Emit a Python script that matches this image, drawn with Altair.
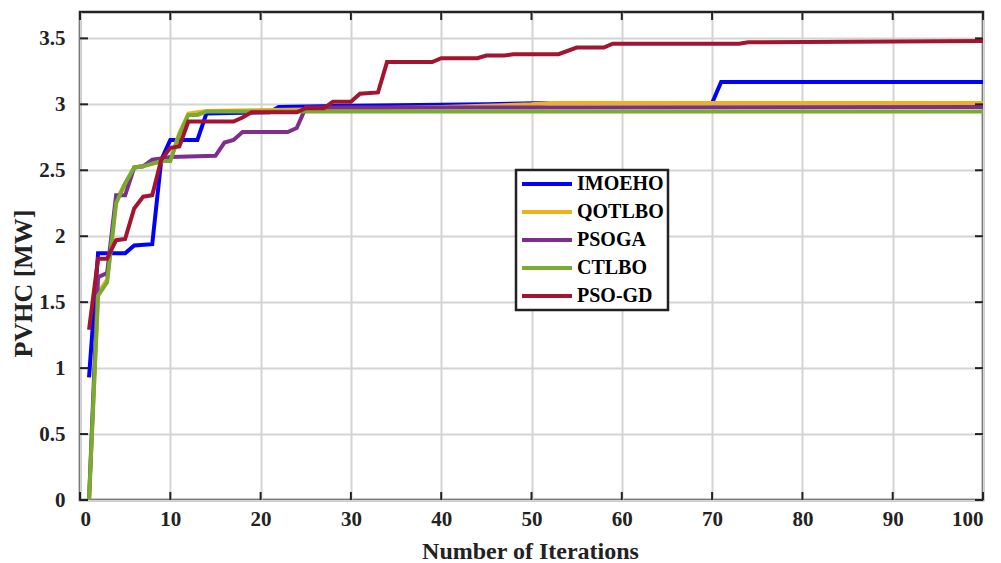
import altair as alt
import pandas as pd

# ---- data (iteration, value) breakpoints ----
imoeho_it = [1, 2, 5, 6, 8, 9, 10, 13, 14, 21, 22, 30, 45, 52, 70, 71, 100]
imoeho_v = [0.93, 1.87, 1.87, 1.93, 1.94, 2.58, 2.73, 2.73, 2.93, 2.94, 2.98, 2.99, 3.00, 3.01, 3.01, 3.17, 3.17]

qotlbo_it = [1, 2, 3, 4, 5, 6, 8, 10, 11, 12, 14, 25, 40, 50, 52, 100]
qotlbo_v = [0.0, 1.57, 1.67, 2.27, 2.40, 2.52, 2.55, 2.58, 2.78, 2.93, 2.95, 2.96, 2.98, 3.00, 3.01, 3.01]

psoga_it = [1, 2, 3, 4, 5, 6, 7, 8, 9, 10, 15, 16, 17, 18, 23, 24, 25, 100]
psoga_v = [0.0, 1.69, 1.72, 2.31, 2.31, 2.52, 2.53, 2.58, 2.59, 2.60, 2.61, 2.71, 2.73, 2.79, 2.79, 2.82, 2.975, 2.98]

ctlbo_it = [1, 2, 3, 4, 5, 6, 7, 8, 9, 10, 11, 12, 13, 14, 100]
ctlbo_v = [0.0, 1.55, 1.65, 2.25, 2.40, 2.52, 2.53, 2.55, 2.57, 2.57, 2.77, 2.92, 2.92, 2.945, 2.945]

psogd_it = [1, 2, 3, 4, 5, 6, 7, 8, 9, 10, 11, 12, 17, 18, 19, 24, 25, 27, 28, 30, 31, 33,
            34, 39, 40, 44, 45, 47, 48, 53, 55, 58, 59, 73, 74, 100]
psogd_v = [1.29, 1.83, 1.83, 1.97, 1.98, 2.21, 2.30, 2.31, 2.58, 2.67, 2.68, 2.87, 2.87, 2.90, 2.94, 2.94,
           2.97, 2.97, 3.02, 3.02, 3.08, 3.09, 3.32, 3.32, 3.35, 3.35, 3.37, 3.37, 3.38, 3.38, 3.43, 3.43,
           3.46, 3.46, 3.47, 3.48]

names = ["IMOEHO", "QOTLBO", "PSOGA", "CTLBO", "PSO-GD"]
colors = ["#0000FF", "#EDB120", "#7E2F8E", "#77AC30", "#A2142F"]
x_ticks = [0, 10, 20, 30, 40, 50, 60, 70, 80, 90, 100]
y_ticks = [0, 0.5, 1, 1.5, 2, 2.5, 3, 3.5]

series = [(imoeho_it, imoeho_v), (qotlbo_it, qotlbo_v), (psoga_it, psoga_v),
          (ctlbo_it, ctlbo_v), (psogd_it, psogd_v)]
rows = []
for k, (name, (its, vals)) in enumerate(zip(names, series)):
    for i, v in zip(its, vals):
        rows.append({"iter": i, "value": v, "alg": name, "k": k})
df = pd.DataFrame(rows)
xt = pd.DataFrame({"t": x_ticks})
yt = pd.DataFrame({"t": y_ticks})

W, H = 903, 488
FONT = "Liberation Serif"

xscale = alt.Scale(domain=[0, 100], nice=False, zero=False)
yscale = alt.Scale(domain=[0, 3.7], nice=False)

lines = alt.Chart(df).mark_line(strokeWidth=4).encode(
    x=alt.X("iter:Q", scale=xscale,
            axis=alt.Axis(values=x_ticks, title="Number of Iterations", grid=True,
                          tickSize=0, labelPadding=8, domain=False,
                          titleX=450, titleY=51, titleBaseline="middle",
                          titleFontSize=24)),
    y=alt.Y("value:Q", scale=yscale,
            axis=alt.Axis(values=y_ticks, title="PVHC [MW]", grid=True, format="~g",
                          tickSize=0, labelPadding=15, domain=False,
                          titleX=-57, titleY=271, titleBaseline="middle", titleAlign="center",
                          titleFontSize=26)),
    color=alt.Color("alg:N", scale=alt.Scale(domain=names, range=colors),
                    sort=names,
                    legend=alt.Legend(title=None, orient="none", legendX=436, legendY=158,
                                      symbolType="stroke", symbolSize=2500, symbolStrokeWidth=4,
                                      labelFont=FONT, labelFontSize=20, labelFontWeight="bold",
                                      labelColor="black", rowPadding=8, clipHeight=20,
                                      padding=4, strokeColor="#222222", fillColor="white",
                                      labelOffset=3)),
    order=alt.Order("k:Q"),
)

tick_style = dict(color="#222222", strokeWidth=2)
xb = alt.Chart(xt).mark_rule(**tick_style).encode(
    x=alt.X("t:Q", scale=xscale), y=alt.value(H), y2=alt.value(H - 8))
xtop = alt.Chart(xt).mark_rule(**tick_style).encode(
    x=alt.X("t:Q", scale=xscale), y=alt.value(0), y2=alt.value(8))
yl = alt.Chart(yt).mark_rule(**tick_style).encode(
    y=alt.Y("t:Q", scale=yscale), x=alt.value(0), x2=alt.value(8))
yr = alt.Chart(yt).mark_rule(**tick_style).encode(
    y=alt.Y("t:Q", scale=yscale), x=alt.value(W), x2=alt.value(W - 8))

chart = alt.layer(lines, xb, xtop, yl, yr).properties(
    width=W, height=H,
    autosize=alt.AutoSizeParams(type="none"),
    padding={"left": 80, "top": 12, "right": 18, "bottom": 63},
    background="white",
).configure_view(
    stroke="#222222", strokeWidth=2.5
).configure_axis(
    gridColor="#d4d4d4", gridWidth=2,
    labelFont=FONT, labelFontSize=21, labelFontWeight="bold", labelColor="#222222",
    titleFont=FONT, titleFontWeight="bold", titleColor="#222222",
).configure_legend(
    strokeWidth=2.5
)

chart.save("out.html", embed_options={"renderer": "svg", "actions": False})
